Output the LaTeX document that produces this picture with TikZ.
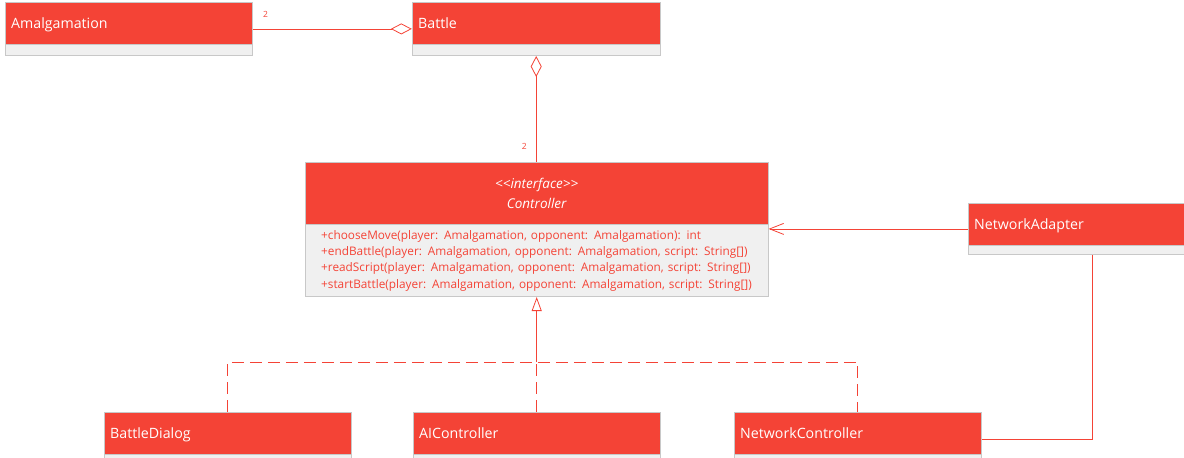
\documentclass[tikz,border=0pt]{standalone}
\usepackage{fontspec}
\setmainfont{Open Sans}
\usepackage{tikz}
\usetikzlibrary{arrows.meta,fit}
\definecolor{umlred}{HTML}{F44336}
\definecolor{bodygrey}{HTML}{F0F0F0}
\definecolor{edgegrey}{HTML}{C8C8C8}

\begin{document}
\begin{tikzpicture}[x=1pt,y=-1pt,
  head/.style={draw=edgegrey,fill=umlred,text=white,anchor=north west,minimum height=42pt,
    inner xsep=6pt,text height=13pt,text depth=2pt,align=left,font=\fontsize{14.2}{16}\selectfont},
  body/.style={draw=edgegrey,fill=bodygrey,anchor=north west,minimum height=11pt},
  whole/.style={inner sep=0pt},
  link/.style={draw=umlred,line width=0.8pt},
  realize/.style={link,dash pattern=on 12pt off 6pt},
  mult/.style={text=umlred,font=\fontsize{8.5}{9}\selectfont}]
\useasboundingbox (0,0) rectangle (1184,458);

\node[head,text width=235pt] (amal) at (5,2) {Amalgamation};
\node[body,minimum width=247pt] (amal-c) at (amal.south west) {};
\node[whole,fit=(amal)(amal-c)] (amalbox) {};

\node[head,text width=236pt] (battle) at (412,2) {Battle};
\node[body,minimum width=248pt] (battle-c) at (battle.south west) {};
\node[whole,fit=(battle)(battle-c)] (battlebox) {};

\node[draw=edgegrey,fill=umlred,text=white,anchor=north west,text width=451pt,minimum height=62pt,
  inner xsep=6pt,align=center,font=\fontsize{13.5}{20}\selectfont\itshape]
  (ctrl) at (305,162) {{<}{<}interface{>}{>}\\Controller};
\node[body,minimum width=463pt,minimum height=72pt,text width=431pt,inner xsep=16pt,align=left,
  text=umlred,font=\fontsize{11.8}{16.3}\selectfont] (ctrl-c) at (ctrl.south west)
  {+chooseMove(player: Amalgamation, opponent: Amalgamation): int\\
   +endBattle(player: Amalgamation, opponent: Amalgamation, script: String[])\\
   +readScript(player: Amalgamation, opponent: Amalgamation, script: String[])\\
   +startBattle(player: Amalgamation, opponent: Amalgamation, script: String[])};
\node[whole,fit=(ctrl)(ctrl-c)] (ctrlbox) {};

\node[head,text width=236pt] (netad) at (968,203) {NetworkAdapter};
\node[body,minimum width=248pt,minimum height=9pt] (netad-c) at (netad.south west) {};
\node[whole,fit=(netad)(netad-c)] (netadbox) {};

\node[head,text width=235pt] (bdlg) at (104,412) {BattleDialog};
\node[body,minimum width=247pt] (bdlg-c) at (bdlg.south west) {};
\node[whole,fit=(bdlg)(bdlg-c)] (bdlgbox) {};

\node[head,text width=235pt] (aictl) at (413,412) {AIController};
\node[body,minimum width=247pt] (aictl-c) at (aictl.south west) {};
\node[whole,fit=(aictl)(aictl-c)] (aictlbox) {};

\node[head,text width=235pt] (netctl) at (734,412) {NetworkController};
\node[body,minimum width=247pt] (netctl-c) at (netctl.south west) {};
\node[whole,fit=(netctl)(netctl-c)] (netctlbox) {};

\draw[link,-{Diamond[open,length=21pt,width=11pt]}] (amalbox.east)
  node[mult,xshift=13pt,yshift=14pt] {2} -- (amalbox.east -| battlebox.west);
\draw[link,{Diamond[open,length=21pt,width=11pt]}-] (battlebox.south) -- (battlebox.south |- ctrlbox.north)
  node[mult,xshift=-12pt,yshift=15pt] {2};
\draw[link,-{Straight Barb[length=14pt,width=11pt]}] (netadbox.west) -- (netadbox.west -| ctrlbox.east);
\draw[link] (netadbox.south) |- (netctlbox.east);

\coordinate (join) at (aictlbox.north |- 0,362);
\draw[realize] (bdlgbox.north) |- (join) -| (netctlbox.north);
\draw[realize] (aictlbox.north) -- (join);
\draw[link,-{Triangle[open,length=14pt,width=10pt]}] (join) -- (join |- ctrlbox.south);
\end{tikzpicture}
\end{document}
